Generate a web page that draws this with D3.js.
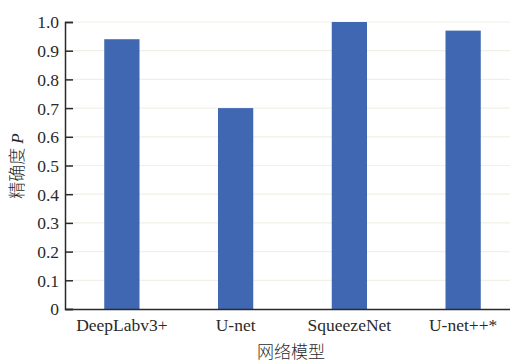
<!DOCTYPE html>
<html>
<head>
<meta charset="utf-8">
<script src="https://cdn.jsdelivr.net/npm/d3@7"></script>
<style>
  html, body { margin: 0; padding: 0; background: #fff; }
  svg { display: block; }
</style>
</head>
<body>
<svg id="chart" width="510" height="364"></svg>
<script>
// Model names and their precision P
const models = ["DeepLabv3+", "U-net", "SqueezeNet", "U-net++*"];
const precision = [0.94, 0.70, 1.00, 0.97];
const yTicks = [0, 0.1, 0.2, 0.3, 0.4, 0.5, 0.6, 0.7, 0.8, 0.9, 1.0];

const serif = "'Liberation Serif', 'DejaVu Serif', 'Times New Roman', serif";
const cjk = "'Noto Sans CJK SC', sans-serif";
const ink = "#2a2a2a";

const svg = d3.select("#chart");
const plot = { left: 65, bottom: 309, top: 22, right: 520 };

const x = d3.scaleBand().domain(models).range([plot.left, plot.right]).paddingInner(0.69).paddingOuter(0.345);
const y = d3.scaleLinear().domain([0, 1]).range([plot.bottom, plot.top]);

// faint horizontal grid
svg.append("g").selectAll("line").data(yTicks.slice(1)).join("line")
  .attr("x1", plot.left).attr("x2", 510)
  .attr("y1", d => y(d)).attr("y2", d => y(d))
  .attr("stroke", "#f1efe6").attr("stroke-width", 1.2);

// bars
svg.append("g").selectAll("rect").data(models).join("rect")
  .attr("x", d => x(d))
  .attr("width", x.bandwidth())
  .attr("y", (d, i) => y(precision[i]))
  .attr("height", (d, i) => y(0) - y(precision[i]))
  .attr("fill", "#4068b2");

// y axis, ticks pointing into the plot
const yAxis = d3.axisRight(y).tickValues(yTicks).tickSize(8)
  .tickFormat(d => d === 0 ? "0" : d3.format(".1f")(d));
const gy = svg.append("g").attr("transform", `translate(${plot.left},0)`).call(yAxis)
  .attr("font-family", serif).attr("font-size", 17.5);
gy.select(".domain").attr("stroke", ink).attr("stroke-width", 1.5);
gy.selectAll(".tick line").attr("stroke", ink).attr("stroke-width", 1.5);
gy.selectAll(".tick text").attr("x", -6).attr("text-anchor", "end")
  .attr("dy", "0.34em").attr("fill", ink).style("font-family", serif);

// x axis
const xAxis = d3.axisBottom(x).tickSize(0);
const gx = svg.append("g").attr("transform", `translate(0,${plot.bottom})`).call(xAxis)
  .attr("font-family", serif).attr("font-size", 17.5);
gx.select(".domain").attr("stroke", ink).attr("stroke-width", 1.5);
gx.selectAll(".tick text").attr("y", 10).attr("fill", ink).style("font-family", serif);

// axis titles
svg.append("text").attr("x", 291).attr("y", 358).attr("text-anchor", "middle")
  .attr("fill", ink).style("font-family", cjk).style("font-weight", 300)
  .attr("font-size", 17).text("网络模型");

const yl = svg.append("text").attr("transform", "translate(23,166) rotate(-90)")
  .attr("text-anchor", "middle").attr("font-size", 17).attr("fill", ink);
yl.append("tspan").style("font-family", cjk).style("font-weight", 300).text("精确度");
yl.append("tspan").style("font-family", serif).attr("font-style", "italic").attr("dx", 4).text("P");
</script>
</body>
</html>
